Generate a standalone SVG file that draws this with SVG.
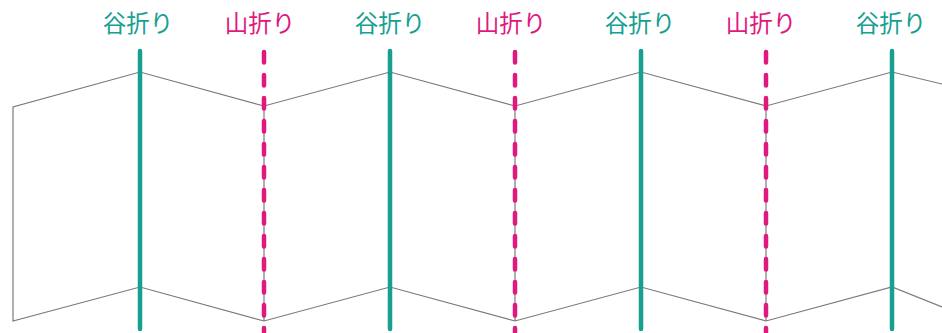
<svg xmlns="http://www.w3.org/2000/svg" width="942" height="333" viewBox="0 0 942 333">
<style>
.paper{fill:none;stroke:#7a7a7a;stroke-width:1.2;stroke-linejoin:miter}
.valley{stroke:#17a092;stroke-width:4.5;stroke-linecap:round;fill:none}
.mountain{stroke:#e0197f;stroke-width:4.5;stroke-linecap:round;stroke-dasharray:10.5 12.5;fill:none}
.vt{fill:#17a092;font-family:"Noto Sans CJK JP","Noto Sans",sans-serif;font-size:23.5px;text-anchor:middle}
.mt{fill:#e0197f;font-family:"Noto Sans CJK JP","Noto Sans",sans-serif;font-size:23.5px;text-anchor:middle}
</style>
<rect width="942" height="333" fill="#ffffff"/>
<g id="paper">
<polyline class="paper" points="942,84 892,72 766,106 641,72 515,106 390,72 264,106 140,72 13,107 13,321 140,287 264,321 390,287 515,321 641,287 766,321 892,287 942,307"/>
<line class="paper" x1="264" y1="106" x2="264" y2="321"/>
<line class="paper" x1="515" y1="106" x2="515" y2="321"/>
<line class="paper" x1="766" y1="106" x2="766" y2="321"/>
</g>
<g id="connectors">
<line class="valley" x1="140" y1="51" x2="140" y2="329"/>
<line class="mountain" x1="264" y1="52" x2="264" y2="332"/>
<line class="valley" x1="390" y1="51" x2="390" y2="329"/>
<line class="mountain" x1="515" y1="52" x2="515" y2="332"/>
<line class="valley" x1="641" y1="51" x2="641" y2="329"/>
<line class="mountain" x1="766" y1="52" x2="766" y2="332"/>
<line class="valley" x1="892" y1="51" x2="892" y2="329"/>
</g>
<g id="label-v1"><text class="vt" x="138" y="32">谷折り</text></g>
<g id="label-m1"><text class="mt" x="260" y="32">山折り</text></g>
<g id="label-v2"><text class="vt" x="390" y="32">谷折り</text></g>
<g id="label-m2"><text class="mt" x="511" y="32">山折り</text></g>
<g id="label-v3"><text class="vt" x="640" y="32">谷折り</text></g>
<g id="label-m3"><text class="mt" x="761" y="32">山折り</text></g>
<g id="label-v4"><text class="vt" x="891" y="32">谷折り</text></g>
</svg>
